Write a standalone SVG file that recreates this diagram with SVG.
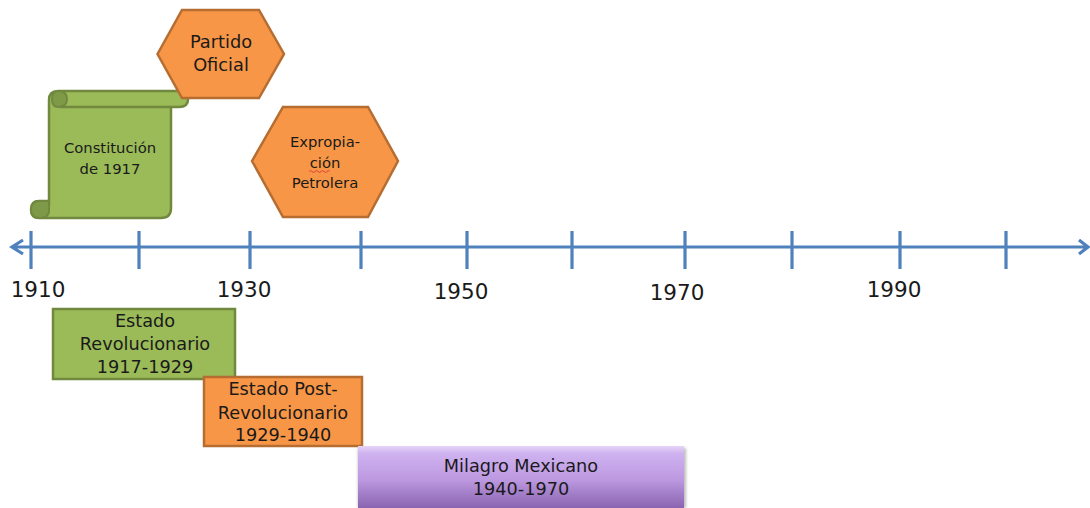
<svg xmlns="http://www.w3.org/2000/svg" width="1090" height="508" viewBox="0 0 1090 508">
<style>
text{font-family:"DejaVu Sans","Liberation Sans",sans-serif;fill:#1a1a1a;text-anchor:middle}
.a{stroke:#4f81bd;fill:none;stroke-width:3.2}
.o{fill:#f79646;stroke:#b66d31;stroke-width:2.5}
.g{fill:#9bbb59;stroke:#71893f;stroke-width:2.5}
.c{fill:#7e9a48;stroke:#71893f;stroke-width:2}
.s{font-size:17.800px}.m{font-size:17.700px}.t{font-size:14.800px}.y{font-size:21.500px}
</style>
<defs>
<linearGradient id="p" x1="0" y1="0" x2="0" y2="1">
<stop offset="0" stop-color="#e6d5f7"/><stop offset="0.12" stop-color="#cfb2f0"/><stop offset="0.55" stop-color="#bc98e0"/><stop offset="1" stop-color="#8a64b0"/>
</linearGradient>
<filter id="b" x="-5%" y="-20%" width="110%" height="140%"><feGaussianBlur stdDeviation="1.5"/></filter>
</defs>
<g id="connectors">
<path class="a" d="M12 247H1088M23 240L12 247L23 254M1079 240L1088 247L1079 254"/>
<path class="a" d="M31 231V269M139 231V269M250 231V269M361 231V269M467 231V269M572 231V269M685 231V269M792 231V269M900 231V269M1006 231V269"/>
</g>
<g id="labels">
<text class="y" x="38" y="297">1910</text>
<text class="y" x="244" y="297">1930</text>
<text class="y" x="461" y="299">1950</text>
<text class="y" x="677" y="300">1970</text>
<text class="y" x="894" y="297">1990</text>
</g>
<g id="constitucion">
<path class="g" d="M49 206V100Q49 91 58 91H179Q188 91 188 99.500Q188 107 179 107H171V208Q171 218 161 218H39Q31 218 31 209.500Q31 201 39 201H49Z"/>
<path class="c" d="M58 91Q67 91 67 99Q67 107 58 107Q52 107 52 99Q52 91 58 91Z"/>
<path class="c" d="M40 201H49V212Q48 218 40 218Q31 218 31 209.500Q31 201 40 201Z"/>
<path fill="none" stroke="#71893f" stroke-width="2.500" d="M60 107H171"/>
<text class="t" x="110" y="153">Constitución</text>
<text class="t" x="110" y="174">de 1917</text>
</g>
<g id="partido">
<polygon class="o" points="157.500,54 182,10 259,10 284,54 259,98 182,98"/>
<text class="s" x="221" y="48">Partido</text>
<text class="s" x="221" y="71">Oficial</text>
</g>
<g id="expropiacion">
<polygon class="o" points="252,161 283,107 368,107 398,161 368,217 283,217"/>
<text class="t" x="325" y="147">Expropia-</text>
<text class="t" x="325" y="168">ción</text>
<path d="M309 171.500q1.500-2 3 0t3 0t3 0t3 0t3 0t3 0t3 0" fill="none" stroke="#e04040" stroke-width="1"/>
<text class="t" x="325" y="188">Petrolera</text>
</g>
<g id="estado-revolucionario">
<rect class="g" x="53" y="309" width="182" height="70"/>
<text class="m" x="145" y="327">Estado</text>
<text class="m" x="145" y="350">Revolucionario</text>
<text class="m" x="145" y="373">1917-1929</text>
</g>
<g id="estado-post">
<rect class="o" x="204" y="377" width="158" height="69"/>
<text class="m" x="283" y="395">Estado Post-</text>
<text class="m" x="283" y="419">Revolucionario</text>
<text class="m" x="283" y="441">1929-1940</text>
</g>
<g id="milagro">
<rect x="358" y="448" width="328" height="60" fill="#777" opacity="0.5" filter="url(#b)"/>
<rect x="358" y="446" width="326" height="62" fill="url(#p)"/>
<text class="m" x="521" y="472">Milagro Mexicano</text>
<text class="m" x="521" y="495">1940-1970</text>
</g>
</svg>
